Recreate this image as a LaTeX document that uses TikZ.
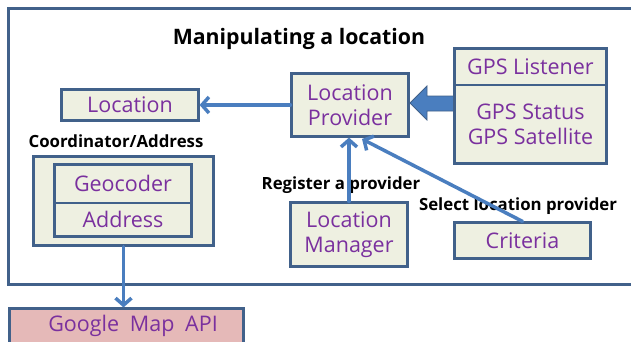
\documentclass[tikz,border=0pt]{standalone}
\usepackage{fontspec}
\setmainfont{Open Sans}
\usetikzlibrary{arrows.meta}

\definecolor{boxline}{HTML}{41618A}
\definecolor{boxfill}{HTML}{EEF0E1}
\definecolor{boxtext}{HTML}{7A309E}
\definecolor{arrowblue}{HTML}{4A7EBF}
\definecolor{apifill}{HTML}{E5B9B8}

\tikzset{
  box/.style={draw=boxline, line width=2.2pt, fill=boxfill, text=boxtext,
    font=\fontsize{21.5}{25}\selectfont, inner sep=0pt, align=center},
  lbl/.style={font=\bfseries\fontsize{16.8}{19}\selectfont},
  link/.style={draw=arrowblue, line width=3.5pt, line cap=round,
    -{Straight Barb[length=7pt,width=16pt,line width=3.5pt]}},
}

\begin{document}
\begin{tikzpicture}[x=1pt,y=-1pt]
  \useasboundingbox (0,0) rectangle (631,341);
  \clip (0,0) rectangle (631,341);
  \fill[white] (0,0) rectangle (631,341);

  % outer frame
  \draw[boxline, line width=2.5pt] (8.5,8.5) rectangle (660,284.5);
  \node[font=\bfseries\fontsize{21.3}{24}\selectfont] (title) at (299,38.5) {Manipulating a location};

  % provider side
  \node[box, minimum width=137, minimum height=31] (loc) at (130,105) {Location};
  \node[box, minimum width=117, minimum height=63] (prov) at (350,105) {Location\\Provider};
  \node[box, minimum width=152, minimum height=36.5] (lis) at (530.5,66.75) {GPS Listener};
  \node[box, minimum width=152, minimum height=78.5] (stat) at (530.5,124.25) {GPS Status\\GPS Satellite};
  \node[box, minimum width=117, minimum height=64] (mgr) at (349,234.5) {Location\\Manager};
  \node[box, minimum width=136, minimum height=36] (crit) at (522.5,240.5) {Criteria};

  % coordinator / address
  \node[lbl] (coordlbl) at (116,141) {Coordinator/Address};
  \node[box, minimum width=180, minimum height=89] (coord) at (123.5,201) {};
  \node[box, minimum width=137, minimum height=38.5] (geo) at (123,183.75) {Geocoder};
  \node[box, minimum width=137, minimum height=33.5] (addr) at (123,219.75) {Address};
  \node[box, fill=apifill, minimum width=234, minimum height=40] (api) at (126.5,328.5) {};
  \node[text=boxtext, font=\fontsize{21.5}{24}\selectfont] (apitxt) at (133,326)
    {Google\enspace Map\enspace API};

  \node[lbl] (reglbl) at (341,185) {Register a provider};
  \node[lbl] (sellbl) at (518,206) {Select location provider};
  \coordinate (provin) at (362,139);

  % connectors
  \draw[link] (prov) -- (loc);
  \draw[link] (coord.south) -- (coord.south |- api.north);
  \draw[link] (mgr.north) -- (mgr.north |- prov.south);
  \draw[link] (crit.north) -- (provin);

  % thick arrow from the gps block
  \filldraw[fill=arrowblue, draw=boxline, line width=0.8pt]
    (stat.west |- 0,96) -- (427,96) -- (427,86) -- (410,103)
    -- (427,120) -- (427,111) -- (stat.west |- 0,111) -- cycle;
\end{tikzpicture}
\end{document}
